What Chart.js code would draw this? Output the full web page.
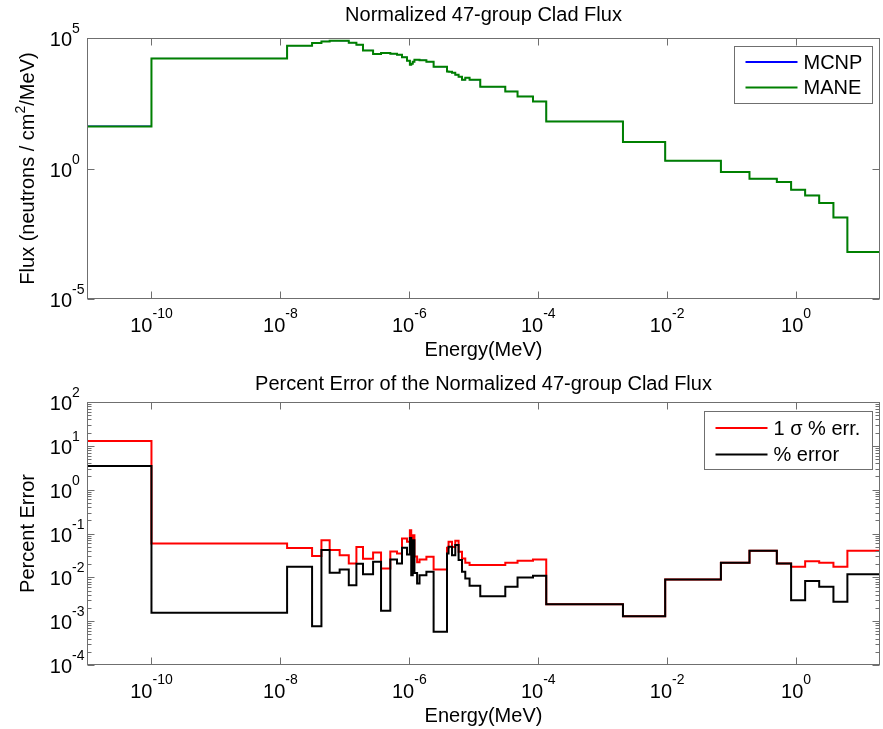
<!DOCTYPE html>
<html><head><meta charset="utf-8">
<script src="https://cdn.jsdelivr.net/npm/chart.js@4.4.1/dist/chart.umd.min.js"></script>
<style>
html,body{margin:0;padding:0;background:#fff;}
#wrap{position:relative;width:883px;height:729px;background:#fff;}
#c1{position:absolute;left:0;top:0;width:883px;height:364px;}
#c2{position:absolute;left:0;top:364px;width:883px;height:365px;}
</style></head><body>
<div id="wrap"><canvas id="c1" width="883" height="364"></canvas><canvas id="c2" width="883" height="365"></canvas></div>
<script>
// ---- data (47 energy groups, boundaries in MeV) ----
const energyBounds = [1e-11, 1e-10, 1.27e-8, 3.1e-8, 4.33e-8, 5.81e-8, 8.3e-8, 1.15e-7, 1.51e-7, 1.91e-7,
  2.74e-7, 3.64e-7, 5.07e-7, 6.44e-7, 7.7e-7, 9.21e-7, 1.02e-6, 1.07e-6, 1.13e-6, 1.2e-6,
  1.32e-6, 1.44e-6, 1.84e-6, 2.38e-6, 3.84e-6, 4.06e-6, 4.59e-6, 5.16e-6, 5.81e-6, 6.56e-6,
  7.38e-6, 8.6e-6, 1.26e-5, 3.08e-5, 4.77e-5, 8.28e-5, 1.33e-4, 2.06e-3, 9.31e-3, 6.81e-2,
  0.189, 0.502, 0.836, 1.38, 2.28, 3.79, 6.24, 20];
const mcnpFlux = [42.5, 1.65e4, 5.07e4, 6.43e4, 7.41e4, 7.89e4, 7.8e4, 6.6e4, 5.53e4, 3.35e4,
  2.44e4, 2.66e4, 2.5e4, 2.29e4, 1.84e4, 1.35e4, 9.5e3, 1.03e4, 1.24e4, 1.47e4,
  1.47e4, 1.41e4, 1.24e4, 7.9e3, 5.25e3, 5.1e3, 4.7e3, 3.9e3, 3.3e3, 2.5e3,
  3.0e3, 2.5e3, 1.36e3, 900, 578, 372, 63.8, 10.4, 1.99, 0.735,
  0.407, 0.304, 0.154, 0.0933, 0.0477, 0.01337, 6.3e-4];
const maneFlux = [41, 1.65e4, 5.07e4, 6.43e4, 7.41e4, 7.89e4, 7.8e4, 6.6e4, 5.53e4, 3.35e4,
  2.44e4, 2.66e4, 2.5e4, 2.29e4, 1.84e4, 1.35e4, 9.5e3, 1.03e4, 1.24e4, 1.47e4,
  1.47e4, 1.41e4, 1.24e4, 7.9e3, 5.25e3, 5.1e3, 4.7e3, 3.9e3, 3.3e3, 2.5e3,
  3.0e3, 2.5e3, 1.36e3, 900, 578, 372, 63.8, 10.4, 1.99, 0.735,
  0.407, 0.304, 0.154, 0.0933, 0.0477, 0.01337, 6.3e-4];
const sigmaPctErr = [12.9, 0.0594, 0.0464, 0.0305, 0.0706, 0.0418, 0.0321, 0.0207, 0.0489, 0.0267,
  0.037, 0.016, 0.0386, 0.0348, 0.0766, 0.0646, 0.118, 0.0543, 0.0918, 0.03,
  0.0222, 0.0256, 0.0294, 0.015, 0.0476, 0.0646, 0.0489, 0.068, 0.0382, 0.027,
  0.0214, 0.019, 0.019, 0.0214, 0.024, 0.0256, 0.00244, 0.0013, 0.00895, 0.0214,
  0.0403, 0.0207, 0.0174, 0.0234, 0.0214, 0.0174, 0.0403];
const pctError = [3.46, 0.00156, 0.0174, 0.00077, 0.0418, 0.0127, 0.0151, 0.00664, 0.0205, 0.0118,
  0.0226, 0.00172, 0.0256, 0.0207, 0.0476, 0.033, 0.0785, 0.0112, 0.0706, 0.0125,
  0.00726, 0.0112, 0.0134, 0.00057, 0.0352, 0.0497, 0.0321, 0.0543, 0.0247, 0.0134,
  0.0094, 0.0064, 0.00372, 0.00607, 0.00995, 0.0108, 0.00244, 0.0013, 0.00895, 0.0214,
  0.0403, 0.0207, 0.00301, 0.0083, 0.00607, 0.00276, 0.0118];
const xTickExps = [-10, -8, -6, -4, -2, 0];
const fluxTickExps = [-5, 0, 5];
const errTickExps = [-4, -3, -2, -1, 0, 1, 2];
const seriesLabels = ['MCNP', 'MANE', '1 \u03c3 % err.', '% error'];

// ---- helpers ----
const FONT = '"Liberation Sans", Arial, Helvetica, sans-serif';
const AXIS_COLOR = '#6f6f6f';

function stairs(vals) {
  const pts = vals.map((v, i) => ({x: energyBounds[i], y: v}));
  pts.push({x: energyBounds[vals.length], y: vals[vals.length - 1]});
  return pts;
}

function drawSupText(ctx, parts, x, y) {
  let cx = x;
  parts.forEach(p => {
    ctx.font = (p.sup ? '14px ' : '20px ') + FONT;
    ctx.fillText(p.t, cx, p.sup ? y - 9 : y);
    cx += ctx.measureText(p.t).width;
  });
  return cx - x;
}
function measureSup(ctx, parts) {
  let w = 0;
  parts.forEach(p => { ctx.font = (p.sup ? '14px ' : '20px ') + FONT; w += ctx.measureText(p.t).width; });
  return w;
}

function makeAxesPlugin(cfg) {
  return {
    id: 'matlabAxes',
    afterDatasetsDraw(chart) {
      const ctx = chart.ctx, a = chart.chartArea, xs = chart.scales.x, ys = chart.scales.y;
      ctx.save();
      ctx.strokeStyle = AXIS_COLOR; ctx.lineWidth = 1;
      const L = Math.round(a.left) + 0.5, T = Math.round(a.top) + 0.5;
      const R = Math.round(a.right) - 0.5, B = Math.round(a.bottom) - 0.5;
      ctx.strokeRect(L, T, R - L, B - T);
      ctx.beginPath();
      xTickExps.forEach(e => {
        const px = Math.round(xs.getPixelForValue(Math.pow(10, e))) + 0.5;
        ctx.moveTo(px, B); ctx.lineTo(px, B - 7);
        ctx.moveTo(px, T); ctx.lineTo(px, T + 7);
      });
      cfg.yTickExps.forEach(e => {
        const py = Math.round(ys.getPixelForValue(Math.pow(10, e))) + 0.5;
        ctx.moveTo(L, py); ctx.lineTo(L + 7, py);
        ctx.moveTo(R, py); ctx.lineTo(R - 7, py);
      });
      if (cfg.minor) {
        const ex = cfg.yTickExps;
        for (let i = 0; i < ex.length - 1; i++) {
          for (let k = 2; k <= 9; k++) {
            const py = Math.round(ys.getPixelForValue(k * Math.pow(10, ex[i]))) + 0.5;
            ctx.moveTo(L, py); ctx.lineTo(L + 4, py);
            ctx.moveTo(R, py); ctx.lineTo(R - 4, py);
          }
        }
      }
      ctx.stroke();

      ctx.fillStyle = '#000';
      ctx.textAlign = 'left'; ctx.textBaseline = 'alphabetic';
      xTickExps.forEach(e => {
        const px = xs.getPixelForValue(Math.pow(10, e));
        const parts = [{t: '10'}, {t: String(e), sup: true}];
        const w = measureSup(ctx, parts);
        ctx.font = '20px ' + FONT;
        const w1 = ctx.measureText('10').width;
        const x0 = px - w / 2;
        ctx.fillText('10', x0, a.bottom + 33);
        ctx.font = '14px ' + FONT;
        ctx.fillText(String(e), x0 + w1, a.bottom + 19);
      });
      cfg.yTickExps.forEach(e => {
        const py = ys.getPixelForValue(Math.pow(10, e));
        ctx.font = '20px ' + FONT;
        ctx.textAlign = 'right';
        ctx.fillText('10', a.left - 15, py + 8);
        ctx.font = '14px ' + FONT;
        ctx.textAlign = 'left';
        ctx.fillText(String(e), a.left - 15, py - 5);
      });
      ctx.font = '20px ' + FONT;
      ctx.textAlign = 'center';
      const cx = (a.left + a.right) / 2;
      ctx.fillText(cfg.title, cx, a.top - cfg.titleGap);
      ctx.fillText('Energy(MeV)', cx, a.bottom + 57);
      ctx.save();
      ctx.translate(27, (a.top + a.bottom) / 2);
      ctx.rotate(-Math.PI / 2);
      ctx.textAlign = 'left';
      const wy = measureSup(ctx, cfg.yTitle);
      drawSupText(ctx, cfg.yTitle, -wy / 2, 7);
      ctx.restore();
      const lg = cfg.legend;
      const bx = Math.round(a.right - 8 - lg.w) + 0.5, by = Math.round(a.top + lg.top) + 0.5;
      ctx.fillStyle = '#fff';
      ctx.fillRect(bx, by, lg.w, lg.h);
      ctx.strokeStyle = AXIS_COLOR; ctx.lineWidth = 1;
      ctx.strokeRect(bx, by, lg.w, lg.h);
      lg.items.forEach((it, i) => {
        const ry = by + lg.rows[i];
        ctx.strokeStyle = it.color; ctx.lineWidth = 2;
        ctx.beginPath(); ctx.moveTo(bx + 11, ry); ctx.lineTo(bx + 63, ry); ctx.stroke();
        ctx.fillStyle = '#000';
        ctx.font = '20px ' + FONT;
        ctx.textAlign = 'left'; ctx.textBaseline = 'middle';
        ctx.fillText(it.label, bx + 69, ry + 1);
      });
      ctx.restore();
    }
  };
}

function baseOptions(padBottom, yMin, yMax) {
  return {
    responsive: false, animation: false,
    layout: {padding: {left: 87, right: 3, top: 38, bottom: padBottom}},
    plugins: {legend: {display: false}, tooltip: {enabled: false}, title: {display: false}},
    elements: {point: {radius: 0}, line: {tension: 0}},
    scales: {
      x: {type: 'logarithmic', min: 1e-11, max: 20, display: false},
      y: {type: 'logarithmic', min: yMin, max: yMax, display: false}
    }
  };
}

const blue = '#0000ff', green = '#008000', red = '#ff0000', black = '#000000';

new Chart(document.getElementById('c1'), {
  type: 'line',
  data: {datasets: [
    {label: seriesLabels[0], data: stairs(mcnpFlux), borderColor: blue, borderWidth: 1, stepped: true, fill: false, order: 1},
    {label: seriesLabels[1], data: stairs(maneFlux), borderColor: green, borderWidth: 2, stepped: true, fill: false, order: 0}
  ]},
  options: baseOptions(65, 1e-5, 1e5),
  plugins: [makeAxesPlugin({
    yTickExps: fluxTickExps, minor: false,
    title: 'Normalized 47-group Clad Flux', titleGap: 17,
    yTitle: [{t: 'Flux (neutrons / cm'}, {t: '2', sup: true}, {t: '/MeV)'}],
    legend: {w: 138, h: 57, top: 8, rows: [15.5, 41], items: [
      {label: seriesLabels[0], color: blue}, {label: seriesLabels[1], color: green}]}
  })]
});

new Chart(document.getElementById('c2'), {
  type: 'line',
  data: {datasets: [
    {label: seriesLabels[2], data: stairs(sigmaPctErr), borderColor: red, borderWidth: 2, stepped: true, fill: false, order: 1},
    {label: seriesLabels[3], data: stairs(pctError), borderColor: black, borderWidth: 2, stepped: true, fill: false, order: 0}
  ]},
  options: baseOptions(64, 1e-4, 1e2),
  plugins: [makeAxesPlugin({
    yTickExps: errTickExps, minor: true,
    title: 'Percent Error of the Normalized 47-group Clad Flux', titleGap: 12,
    yTitle: [{t: 'Percent Error'}],
    legend: {w: 168, h: 58, top: 9, rows: [16.5, 43], items: [
      {label: seriesLabels[2], color: red}, {label: seriesLabels[3], color: black}]}
  })]
});
</script>
</body></html>
